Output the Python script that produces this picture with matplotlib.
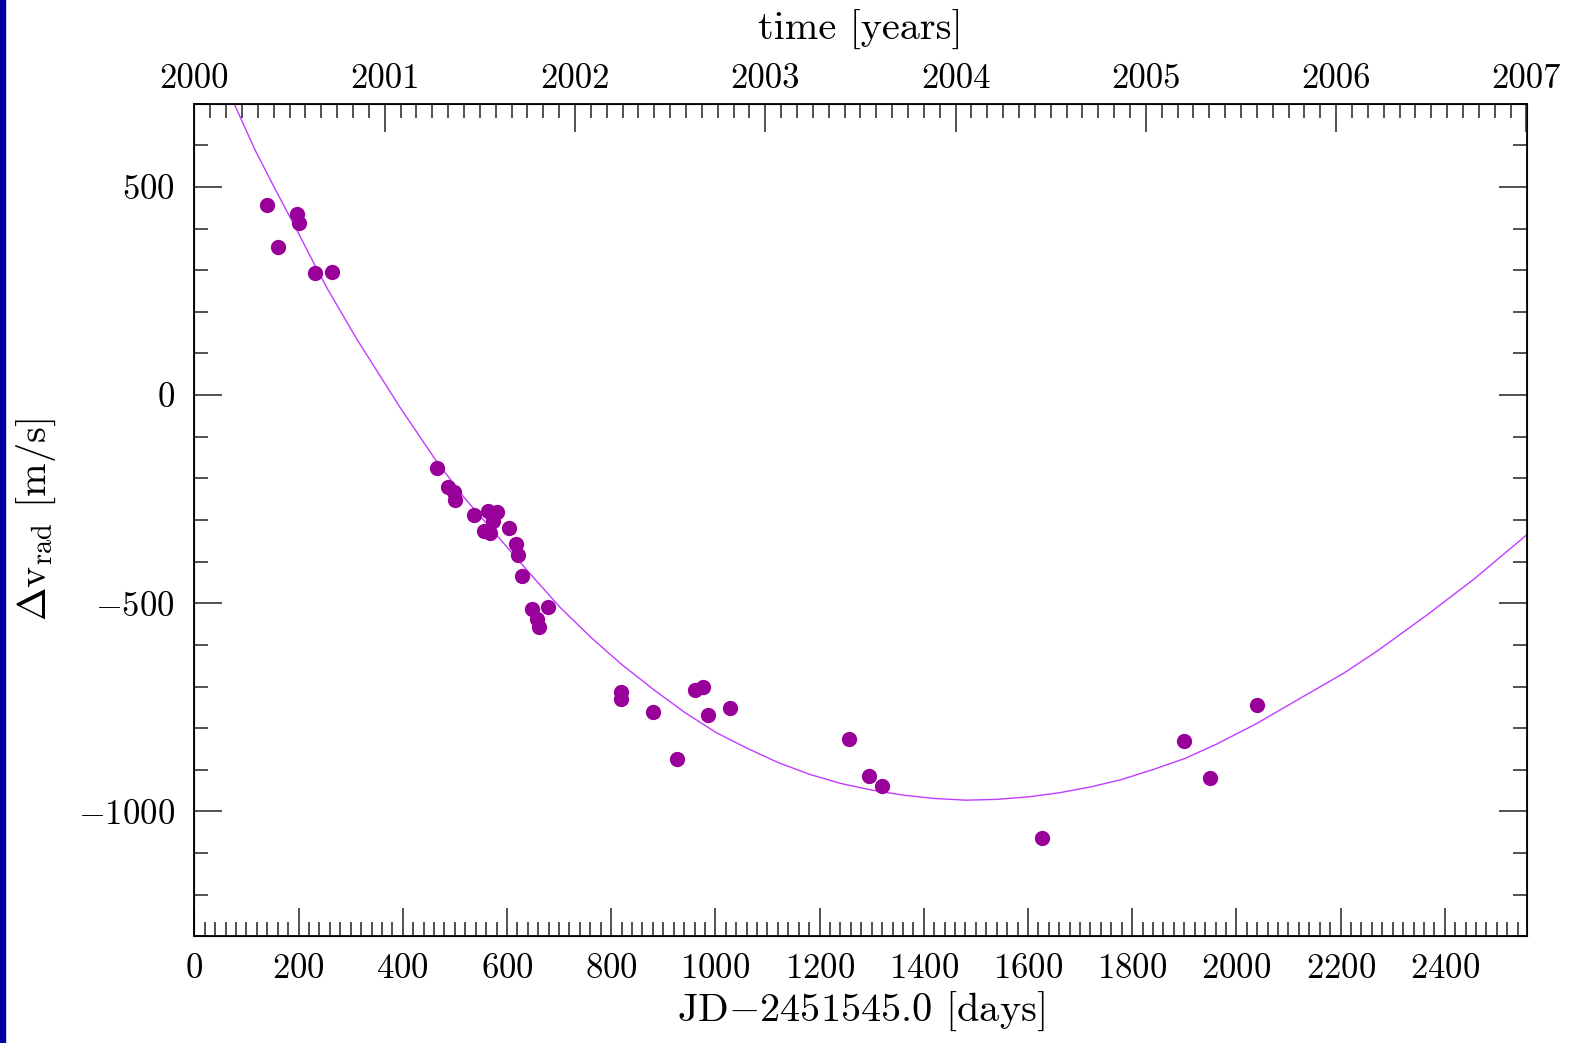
#!/usr/bin/env python3
# radial velocity residuals vs time, with the orbit fit over the top
import matplotlib
matplotlib.use('Agg')
import matplotlib.pyplot as pl
from matplotlib.patches import Rectangle
from matplotlib.ticker import MultipleLocator
import numpy as np

# days since JD 2451545.0 and velocity offsets (m/s)
jd = np.array([139, 160, 197, 201, 232, 265,
               466, 487, 499, 501, 536, 555, 563, 580, 567, 574, 603,
               617, 621, 629, 648, 679, 658, 661,
               818, 818, 880, 926, 961, 977, 986, 1029,
               1257, 1294, 1319, 1626, 1899, 1949, 2040])
dv = np.array([457, 356, 435, 414, 293, 295,
               -174, -220, -232, -252, -288, -327, -278, -281, -331, -302, -319,
               -358, -385, -435, -515, -510, -537, -556,
               -714, -731, -762, -873, -709, -701, -769, -752,
               -825, -914, -939, -1064, -832, -919, -745])

# fitted orbit curve
fit_t = np.array([77, 116, 152, 196, 228, 256, 312, 395, 462, 517,
                  638, 702, 762, 822, 882, 942, 1002, 1062, 1121, 1181,
                  1241, 1301, 1361, 1421, 1481, 1541, 1601, 1661, 1721,
                  1781, 1841, 1901, 1961, 2036, 2123, 2206, 2270, 2366,
                  2456, 2557])
fit_v = np.array([698, 590, 502, 398, 320, 254, 134, -30, -154, -245,
                  -420, -510, -583, -649, -708, -763, -811, -849, -883, -911,
                  -933, -949, -961, -969, -973, -971, -965, -955, -941,
                  -923, -899, -873, -839, -791, -728, -668, -615, -528,
                  -442, -336])

tmax = 2557.0
year0 = 2000

pl.rcParams['font.family'] = 'serif'
pl.rcParams['font.serif'] = ['cmr10']
pl.rcParams['mathtext.fontset'] = 'cm'
pl.rcParams['axes.formatter.use_mathtext'] = True

fig = pl.figure(figsize=(15.79, 10.43), dpi=100)
fig.patches.append(Rectangle((0, 0), 5/1579, 1, transform=fig.transFigure,
                             color='#0000a0', zorder=10))

ax = fig.add_axes([0.1231, 0.1023, 0.8437, 0.7983])
ax.plot(fit_t, fit_v, '-', color='#c03cff', lw=1.0, zorder=2)
ax.plot(jd, dv, 'o', color='#990099', ms=11, mec='none', zorder=3)

ax.set_xlim(0, tmax)
ax.set_ylim(-1300, 700)
ax.xaxis.set_major_locator(MultipleLocator(200))
ax.xaxis.set_minor_locator(MultipleLocator(20))
ax.yaxis.set_major_locator(MultipleLocator(500))
ax.yaxis.set_minor_locator(MultipleLocator(100))
ax.tick_params(which='both', direction='in', right=True, top=False,
               width=1.1, color='#222222', labelsize=25)
ax.tick_params(which='major', length=20)
ax.tick_params(which='minor', length=10)
ax.tick_params(axis='x', pad=12)
ax.tick_params(axis='y', pad=14)
for s in ax.spines.values():
    s.set_linewidth(1.3)

ax.set_xlabel(r'JD$-$2451545.0 [days]', fontsize=29, labelpad=4)
ax.set_ylabel(r'$\Delta\mathrm{v}_{\mathrm{rad}}$ [m/s]', fontsize=29,
              labelpad=14)

# calendar years along the top
ax2 = ax.twiny()
ax2.set_xlim(year0, year0 + tmax/365.25)
ax2.xaxis.set_major_locator(MultipleLocator(1))
ax2.xaxis.set_minor_locator(MultipleLocator(1/12))
ax2.tick_params(which='both', direction='in', top=True, bottom=False,
                width=1.1, color='#222222', labelsize=25, pad=6)
ax2.tick_params(which='major', length=20)
ax2.tick_params(which='minor', length=10)
ax2.xaxis.set_major_formatter(pl.FuncFormatter(lambda x, p: '%d' % round(x)))
ax2.set_xlabel('time [years]', fontsize=29, labelpad=17)

fig.savefig('out.png', dpi=100)
